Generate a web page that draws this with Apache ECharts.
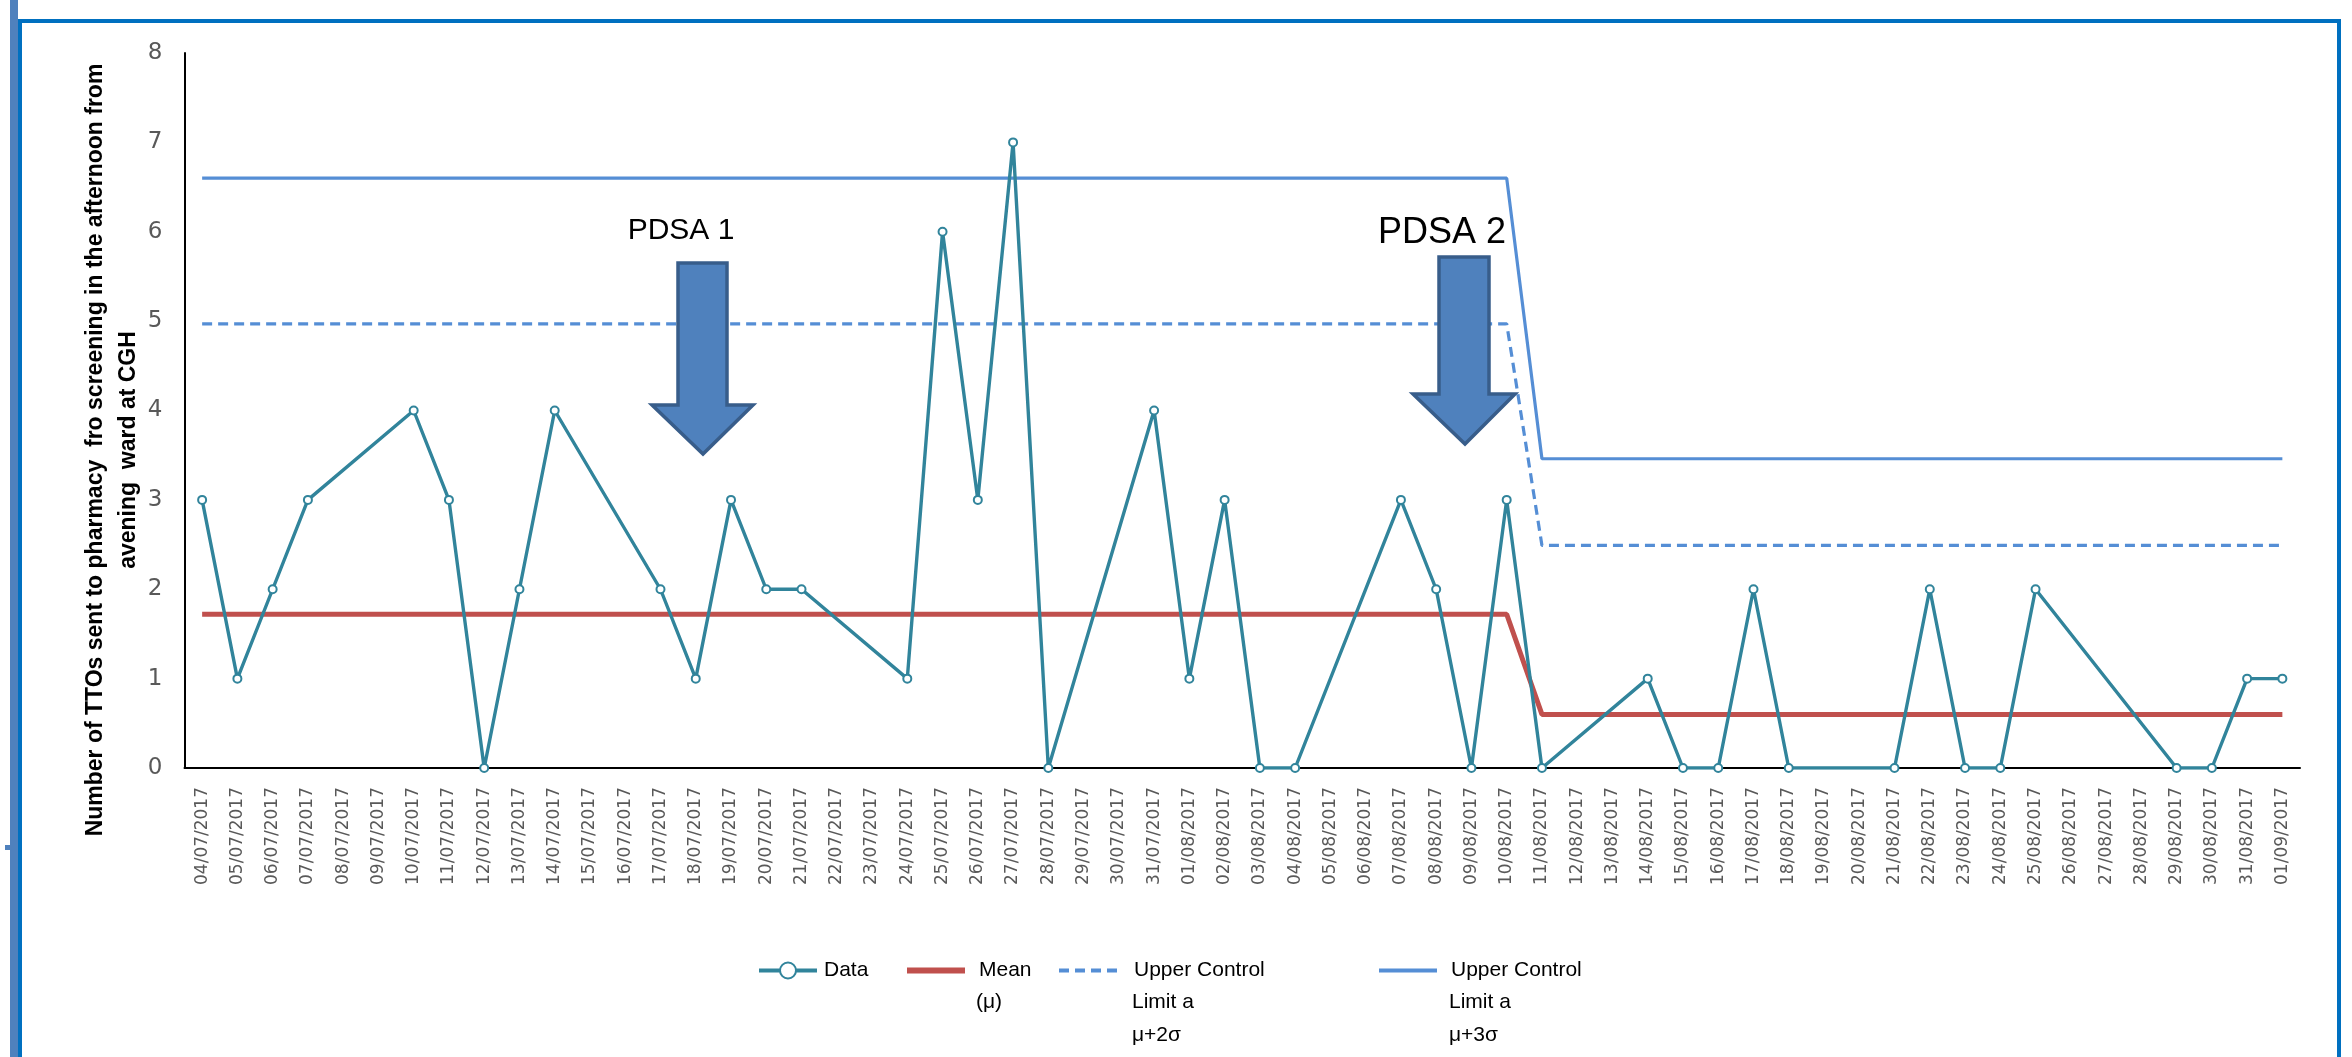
<!DOCTYPE html>
<html>
<head>
<meta charset="utf-8">
<script src="https://cdn.jsdelivr.net/npm/echarts@6/dist/echarts.min.js"></script>
<style>
html,body{margin:0;padding:0;background:#fff;}
#chart{width:2352px;height:1057px;}
</style>
</head>
<body>
<div id="chart"></div>
<script>
const categories = [
 '04/07/2017','05/07/2017','06/07/2017','07/07/2017','08/07/2017','09/07/2017','10/07/2017','11/07/2017','12/07/2017','13/07/2017',
 '14/07/2017','15/07/2017','16/07/2017','17/07/2017','18/07/2017','19/07/2017','20/07/2017','21/07/2017','22/07/2017','23/07/2017',
 '24/07/2017','25/07/2017','26/07/2017','27/07/2017','28/07/2017','29/07/2017','30/07/2017','31/07/2017','01/08/2017','02/08/2017',
 '03/08/2017','04/08/2017','05/08/2017','06/08/2017','07/08/2017','08/08/2017','09/08/2017','10/08/2017','11/08/2017','12/08/2017',
 '13/08/2017','14/08/2017','15/08/2017','16/08/2017','17/08/2017','18/08/2017','19/08/2017','20/08/2017','21/08/2017','22/08/2017',
 '23/08/2017','24/08/2017','25/08/2017','26/08/2017','27/08/2017','28/08/2017','29/08/2017','30/08/2017','31/08/2017','01/09/2017'
];
const dataValues = [
 3,1,2,3,null,null,4,3,0,2,
 4,null,null,2,1,3,2,2,null,null,
 1,6,3,7,0,null,null,4,1,3,
 0,0,null,null,3,2,0,3,0,null,
 null,1,0,0,2,0,null,null,0,2,
 0,0,2,null,null,null,0,0,1,1
];
const meanValues = [
 1.72,1.72,1.72,1.72,1.72,1.72,1.72,1.72,1.72,1.72,
 1.72,1.72,1.72,1.72,1.72,1.72,1.72,1.72,1.72,1.72,
 1.72,1.72,1.72,1.72,1.72,1.72,1.72,1.72,1.72,1.72,
 1.72,1.72,1.72,1.72,1.72,1.72,1.72,1.72,0.6,0.6,
 0.6,0.6,0.6,0.6,0.6,0.6,0.6,0.6,0.6,0.6,
 0.6,0.6,0.6,0.6,0.6,0.6,0.6,0.6,0.6,0.6
];
const ucl2Values = [
 4.97,4.97,4.97,4.97,4.97,4.97,4.97,4.97,4.97,4.97,
 4.97,4.97,4.97,4.97,4.97,4.97,4.97,4.97,4.97,4.97,
 4.97,4.97,4.97,4.97,4.97,4.97,4.97,4.97,4.97,4.97,
 4.97,4.97,4.97,4.97,4.97,4.97,4.97,4.97,2.49,2.49,
 2.49,2.49,2.49,2.49,2.49,2.49,2.49,2.49,2.49,2.49,
 2.49,2.49,2.49,2.49,2.49,2.49,2.49,2.49,2.49,2.49
];
const ucl3Values = [
 6.6,6.6,6.6,6.6,6.6,6.6,6.6,6.6,6.6,6.6,
 6.6,6.6,6.6,6.6,6.6,6.6,6.6,6.6,6.6,6.6,
 6.6,6.6,6.6,6.6,6.6,6.6,6.6,6.6,6.6,6.6,
 6.6,6.6,6.6,6.6,6.6,6.6,6.6,6.6,3.46,3.46,
 3.46,3.46,3.46,3.46,3.46,3.46,3.46,3.46,3.46,3.46,
 3.46,3.46,3.46,3.46,3.46,3.46,3.46,3.46,3.46,3.46
];
const yTicks = [0,1,2,3,4,5,6,7,8];
const seriesNames = ['Data','Mean','UCL2','UCL3'];
const legendLines = [['Data'], ['Mean', '(μ)'], ['Upper Control', 'Limit a', 'μ+2σ'], ['Upper Control', 'Limit a', 'μ+3σ']];
const yAxisTitle = 'Number of TTOs sent to pharmacy  fro screening in the afternoon from\navening  ward at CGH';

const chart = echarts.init(document.getElementById('chart'));
const LH = 32.5;
const LEG_Y = 970;
const legendFont = '"Liberation Sans",sans-serif';
const legendTextX = [822, 976, 1132, 1449];
const legendSymX = [757, 904, 1057, 1377];
const legendLineW = [4, 6, 4, 4];

function mkLegend(i) {
  const hasMarker = i === 0;
  const itemW = 58;
  return {
    data: [seriesNames[i]],
    left: legendSymX[i],
    top: LEG_Y - 10,
    padding: 0,
    itemWidth: itemW,
    itemHeight: 20,
    itemGap: 0,
    formatter: () => legendLines[i][0],
    itemStyle: hasMarker ? {} : { opacity: 0 },
    lineStyle: { width: legendLineW[i] },
    textStyle: {
      fontFamily: legendFont, fontSize: 21, color: '#000',
      padding: [0, 0, 0, legendTextX[i] - legendSymX[i] - itemW - 5]
    }
  };
}
function arrow(x1, x2, top, headY, hx1, hx2, tipX, tipY) {
  return {
    type: 'polygon',
    shape: { points: [[x1, top], [x2, top], [x2, headY], [hx2, headY], [tipX, tipY], [hx1, headY], [x1, headY]] },
    style: { fill: '#4f81bd', stroke: '#385d8a', lineWidth: 3.5 },
    z: 10
  };
}
const extraLegendText = [];
legendLines.forEach((lines, i) => {
  lines.slice(1).forEach((t, j) => {
    extraLegendText.push({
      type: 'text', x: legendTextX[i], y: LEG_Y + (j + 1) * LH,
      style: { text: t, align: 'left', verticalAlign: 'middle', fontFamily: legendFont, fontSize: 21, fill: '#000' }
    });
  });
});

chart.setOption({
  animation: false,
  backgroundColor: '#fff',
  grid: { left: 184.5, right: 52, top: 53, bottom: 289, containLabel: false },
  xAxis: {
    type: 'category',
    data: categories,
    boundaryGap: true,
    axisLine: { lineStyle: { color: '#000', width: 2 } },
    axisTick: { show: false },
    axisLabel: {
      rotate: 90, interval: 0, margin: 19,
      color: '#595959', fontSize: 17, fontFamily: '"DejaVu Sans",sans-serif'
    },
    splitLine: { show: false }
  },
  yAxis: {
    type: 'value',
    min: yTicks[0], max: yTicks[yTicks.length - 1], interval: 1,
    axisLine: { show: true, lineStyle: { color: '#000', width: 2 } },
    axisTick: { show: false },
    splitLine: { show: false },
    axisLabel: { margin: 22, color: '#595959', fontSize: 23, fontFamily: '"DejaVu Sans",sans-serif' }
  },
  legend: [mkLegend(0), mkLegend(1), mkLegend(2), mkLegend(3)],
  series: [
    {
      name: 'Data', type: 'line', data: dataValues, connectNulls: true,
      symbol: 'emptyCircle', symbolSize: 8, z: 5,
      lineStyle: { color: '#31849b', width: 3.4 },
      itemStyle: { color: '#31849b', borderWidth: 1.6 }
    },
    {
      name: 'Mean', type: 'line', data: meanValues, symbol: 'none', z: 3,
      lineStyle: { color: '#c0504d', width: 5 },
      itemStyle: { color: '#c0504d' }
    },
    {
      name: 'UCL2', type: 'line', data: ucl2Values, symbol: 'none', z: 3,
      lineStyle: { color: '#558ed5', width: 3.2, type: [10, 6] },
      itemStyle: { color: '#558ed5' }
    },
    {
      name: 'UCL3', type: 'line', data: ucl3Values, symbol: 'none', z: 3,
      lineStyle: { color: '#558ed5', width: 3.2 },
      itemStyle: { color: '#558ed5' }
    }
  ],
  graphic: [
    { type: 'rect', shape: { x: 10, y: 0, width: 8, height: 1057 }, style: { fill: '#4f81bd' } },
    { type: 'rect', shape: { x: 18, y: 19, width: 4, height: 1038 }, style: { fill: '#0070c0' } },
    { type: 'rect', shape: { x: 18, y: 19, width: 2323, height: 4 }, style: { fill: '#0070c0' } },
    { type: 'rect', shape: { x: 2337, y: 19, width: 4, height: 1038 }, style: { fill: '#0070c0' } },
    { type: 'rect', shape: { x: 5, y: 845, width: 6, height: 5 }, style: { fill: '#4f81bd' } },
    {
      type: 'text', x: 112, y: 450, rotation: Math.PI / 2,
      style: {
        text: yAxisTitle, align: 'center', verticalAlign: 'middle',
        fontFamily: legendFont, fontWeight: 'bold', fontSize: 23, lineHeight: 33, fill: '#000'
      }
    },
    arrow(678, 727, 263, 405, 652, 753, 703, 454),
    arrow(1439, 1489, 257, 394, 1413, 1515, 1465, 444),
    {
      type: 'text', x: 681, y: 231,
      style: { text: 'PDSA 1', align: 'center', verticalAlign: 'middle', fontFamily: legendFont, fontSize: 30, fill: '#000' }
    },
    {
      type: 'text', x: 1442, y: 233,
      style: { text: 'PDSA 2', align: 'center', verticalAlign: 'middle', fontFamily: legendFont, fontSize: 36, fill: '#000' }
    }
  ].concat(extraLegendText)
});
</script>
</body>
</html>
